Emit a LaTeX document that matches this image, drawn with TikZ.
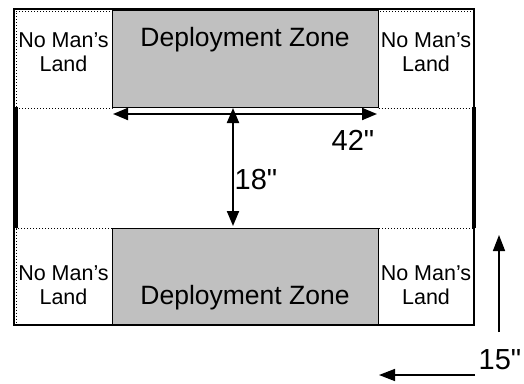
\documentclass[tikz,border=0pt]{standalone}
\usepackage{fontspec}
\setmainfont{Liberation Sans}
\newfontfamily\dimfont{Liberation Sans}
\usetikzlibrary{arrows.meta}
\definecolor{zonegray}{HTML}{C0C0C0}
\tikzset{
  nml/.style={draw, dotted, line width=1pt, inner sep=0pt, anchor=north west},
  nmltext/.style={align=center, font=\fontsize{21.5}{24}\selectfont, inner sep=0pt},
  zone/.style={draw, fill=zonegray, line width=1.2pt, inner sep=0pt, anchor=north west},
  zonetext/.style={font=\fontsize{26.5}{28}\selectfont, inner sep=0pt},
  dimtext/.style={font=\dimfont\fontsize{29}{30}\selectfont, inner sep=0pt},
  bigarrow/.style={line width=2pt, {Triangle[length=15pt,width=12pt]}-{Triangle[length=15pt,width=12pt]}},
  smallarrow/.style={line width=1.5pt, -{Triangle[length=16pt,width=12pt]}}
}
\begin{document}
\begin{tikzpicture}[x=1pt,y=-1pt]
\useasboundingbox (0,0) rectangle (524,383);
% outer frame
\draw[line width=1.2pt] (14,9) rectangle (474,325);
% no man's land boxes
\node[nml, minimum width=96pt, minimum height=97pt] (nmlTL) at (15.5,10.5) {};
\node[nml, minimum width=95pt, minimum height=97pt] (nmlTR) at (378,10.5) {};
\node[nml, minimum width=96pt, minimum height=96pt] (nmlBL) at (15.5,228) {};
\node[nml, minimum width=95pt, minimum height=96pt] (nmlBR) at (378,228) {};
% deployment zones
\node[zone, minimum width=266pt, minimum height=98pt] (dzT) at (112,9) {};
\node[zone, minimum width=266pt, minimum height=97pt] (dzB) at (112,228) {};
% thick edges
\draw[line width=3pt] (dzT.north west) -- (dzT.north east);
\draw[line width=2.5pt] (14,325) -- (474,325);
\draw[line width=4pt] (16,107) -- (16,228);
\draw[line width=4pt] (473.5,107) -- (473.5,228);
% texts
\node[zonetext] (dzTt) at (245,40) {Deployment Zone};
\node[zonetext] (dzBt) at (245,298) {Deployment Zone};
\node[nmltext] (tTL) at (63.5,52) {No Man’s\\Land};
\node[nmltext] (tTR) at (426,52) {No Man’s\\Land};
\node[nmltext] (tBL) at (63.5,285) {No Man’s\\Land};
\node[nmltext] (tBR) at (426,285) {No Man’s\\Land};
% dimension arrows
\coordinate (hL) at (113,114);
\coordinate (hR) at (377,114);
\coordinate (vT) at (233,108);
\coordinate (vB) at (233,226);
\draw[bigarrow] (hL) -- (hR);
\draw[bigarrow] (vT) -- (vB);
\node[dimtext] (d42) at (353,140) {42"};
\node[dimtext] (d18) at (256,180) {18"};
% scale arrows
\coordinate (sv1) at (499,332);
\coordinate (sv2) at (499,235);
\coordinate (sh1) at (475,375);
\coordinate (sh2) at (379,375);
\draw[smallarrow] (sv1) -- (sv2);
\draw[smallarrow] (sh1) -- (sh2);
\node[dimtext] (d15) at (500,360) {15"};
\end{tikzpicture}
\end{document}
